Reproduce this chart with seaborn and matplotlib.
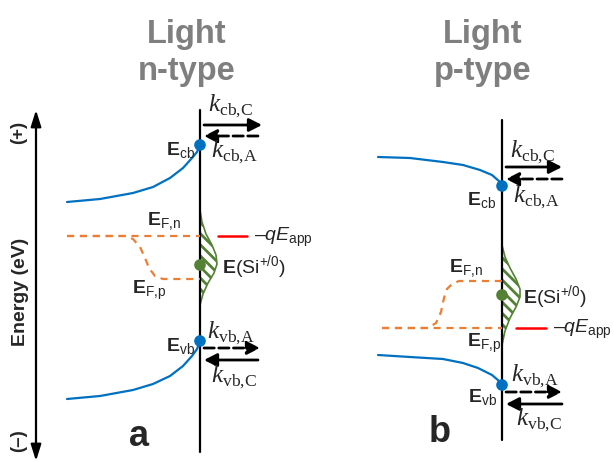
import matplotlib
matplotlib.use("Agg")
from matplotlib import pyplot as plt
import seaborn as sns

# band edge curves (pixel coordinates)
cb_a_x = [67, 100, 133, 153, 170, 183, 192, 197, 200]
cb_a_y = [202, 199, 193, 187, 178, 168, 158, 152, 145]
vb_a_x = [67, 100, 133, 153, 170, 183, 192, 197, 200]
vb_a_y = [399, 396, 390, 384, 376, 366, 356, 349, 341]
cb_b_x = [378, 410, 443, 463, 480, 492, 500, 502]
cb_b_y = [157, 158, 162, 165, 170, 175, 182, 186]
vb_b_x = [378, 410, 443, 463, 478, 492, 499, 502]
vb_b_y = [355, 357, 359, 363, 368, 375, 381, 385]

# quasi-Fermi levels
efn_a_x = [67, 200]
efn_a_y = [236, 236]
efp_a_x = [67, 125, 133, 140, 145, 149, 155, 163, 200]
efp_a_y = [236, 236, 239, 247, 258, 268, 276, 279, 279]
efp_b_x = [382, 502]
efp_b_y = [328, 328]
efn_b_x = [382, 428, 436, 441, 444, 447, 452, 459, 502]
efn_b_y = [328, 328, 323, 312, 298, 289, 284, 281, 281]

# Si+/0 defect distribution
dos_a_y = [210, 222, 234, 245, 255, 264, 273, 283, 294, 305]
dos_a_w = [0, 2, 6, 12, 16, 17, 14, 8, 3, 0]
dos_b_y = [245, 257, 268, 279, 289, 297, 307, 318, 331, 345]
dos_b_w = [0, 3, 8, 14, 18, 18, 14, 8, 3, 0]

BLUE = "#0070c0"
ORANGE = "#ed7d31"
GREEN = "#548235"
GRAY = "#7f7f7f"
QE = "$\\mathit{\u2013qE}_{\\mathrm{app}}$"

sns.set_theme(style="white")
plt.rcParams["font.family"] = ["Liberation Sans", "DejaVu Sans"]
plt.rcParams["mathtext.fontset"] = "custom"
plt.rcParams["mathtext.rm"] = "Liberation Sans"
plt.rcParams["mathtext.bf"] = "Liberation Sans:bold"
plt.rcParams["mathtext.it"] = "Liberation Sans:italic"
plt.rcParams["mathtext.sf"] = "Liberation Serif"
plt.rcParams["mathtext.cal"] = "Liberation Serif:italic"
plt.rcParams["hatch.linewidth"] = 2.0
plt.rcParams["hatch.color"] = GREEN

fig = plt.figure(figsize=(6.14, 4.62), dpi=100)
ax = fig.add_axes([0, 0, 1, 1])
ax.set_xlim(0, 614)
ax.set_ylim(462, 0)
ax.axis("off")


def line(x, y, color, dashed=False, lw=1.6):
    sns.lineplot(x=x, y=y, sort=False, estimator=None, color=color, lw=lw, ax=ax)
    if dashed:
        ax.lines[-1].set_dashes([3.2, 2.6])


def arrow(x0, x1, y, dashed=False):
    ax.annotate("", xy=(x1, y), xytext=(x0, y),
                arrowprops=dict(arrowstyle="-|>,head_length=0.55,head_width=0.28",
                                lw=2, color="black", mutation_scale=14,
                                linestyle="--" if dashed else "-",
                                shrinkA=0, shrinkB=0))


def klabel(x, y, sub):
    ax.text(x, y, r"$\mathcal{k}_{\mathsf{" + sub + "}}$", fontsize=18,
            ha="left", va="center")


def elabel(x, y, sub, ha="left"):
    ax.text(x, y, r"$\mathbf{E}_{\mathrm{" + sub + "}}$", fontsize=14,
            ha=ha, va="center")


# energy axis
ax.annotate("", xy=(36, 110), xytext=(36, 461),
            arrowprops=dict(arrowstyle="<|-|>,head_length=0.7,head_width=0.22",
                            lw=1.6, color="black", mutation_scale=14,
                            shrinkA=0, shrinkB=0))
ax.text(19, 132, "(+)", rotation=90, fontsize=13.5, fontweight="bold",
        ha="center", va="center")
ax.text(21, 292, "Energy (eV)", rotation=90, fontsize=14, fontweight="bold",
        ha="center", va="center")
ax.text(19, 441, "(\u2013)", rotation=90, fontsize=13.5, fontweight="bold",
        ha="center", va="center")

# titles
for cx, t in [(187, "n-type"), (483, "p-type")]:
    ax.text(cx, 43, "Light", fontsize=23.5, fontweight="bold", color=GRAY,
            ha="center", va="baseline")
    ax.text(cx, 80, t, fontsize=23.5, fontweight="bold", color=GRAY,
            ha="center", va="baseline")

# ---------- panel a (n-type) ----------
line([200, 200], [110, 452], "black", lw=1.6)
ax.fill_betweenx(dos_a_y, 200, [200 + w for w in dos_a_w],
                 facecolor="none", edgecolor=GREEN, hatch="\\\\\\", lw=1.2)
line(efn_a_x, efn_a_y, ORANGE, dashed=True)
line(efp_a_x, efp_a_y, ORANGE, dashed=True)
line(cb_a_x, cb_a_y, BLUE)
line(vb_a_x, vb_a_y, BLUE)
sns.scatterplot(x=[cb_a_x[-1], vb_a_x[-1]], y=[cb_a_y[-1], vb_a_y[-1]],
                color=BLUE, s=70, edgecolor="none", ax=ax, zorder=5)
sns.scatterplot(x=[200], y=[265], color=GREEN, s=70, edgecolor="none",
                ax=ax, zorder=5)
line([218, 247], [236, 236], "red", lw=1.8)
ax.text(254, 237, QE, fontsize=14, ha="left", va="center")

arrow(204, 262, 125)
arrow(258, 204, 136, dashed=True)
arrow(204, 260, 348, dashed=True)
arrow(258, 204, 360)
klabel(208, 106, "cb{,}C")
klabel(211, 152, "cb{,}A")
klabel(207, 333, "vb{,}A")
klabel(211, 377, "vb{,}C")
elabel(195, 150, "cb", ha="right")
elabel(147, 221, "F{,}n")
elabel(132, 290, "F{,}p")
elabel(195, 346, "vb", ha="right")
ax.text(222, 267, r"$\mathbf{E}$(Si$^{+/0}$)", fontsize=14, ha="left", va="center")
ax.text(139, 437, "a", fontsize=26, fontweight="bold", ha="center", va="center")

# ---------- panel b (p-type) ----------
line([502, 502], [120, 440], "black", lw=1.6)
ax.fill_betweenx(dos_b_y, 502, [502 + w for w in dos_b_w],
                 facecolor="none", edgecolor=GREEN, hatch="\\\\\\", lw=1.2)
line(efp_b_x, efp_b_y, ORANGE, dashed=True)
line(efn_b_x, efn_b_y, ORANGE, dashed=True)
line(cb_b_x, cb_b_y, BLUE)
line(vb_b_x, vb_b_y, BLUE)
sns.scatterplot(x=[cb_b_x[-1], vb_b_x[-1]], y=[cb_b_y[-1], vb_b_y[-1]],
                color=BLUE, s=70, edgecolor="none", ax=ax, zorder=5)
sns.scatterplot(x=[502], y=[295], color=GREEN, s=70, edgecolor="none",
                ax=ax, zorder=5)
line([516, 546], [328, 328], "red", lw=1.8)
ax.text(553, 329, QE, fontsize=14, ha="left", va="center")

arrow(506, 562, 167)
arrow(562, 506, 179, dashed=True)
arrow(506, 562, 392, dashed=True)
arrow(562, 506, 404)
klabel(510, 152, "cb{,}C")
klabel(513, 197, "cb{,}A")
klabel(511, 376, "vb{,}A")
klabel(516, 420, "vb{,}C")
elabel(496, 200, "cb", ha="right")
elabel(449, 268, "F{,}n")
elabel(467, 343, "F{,}p")
elabel(497, 397, "vb", ha="right")
ax.text(523, 297, r"$\mathbf{E}$(Si$^{+/0}$)", fontsize=14, ha="left", va="center")
ax.text(440, 433, "b", fontsize=26, fontweight="bold", ha="center", va="center")

fig.savefig("out.png", dpi=100)
